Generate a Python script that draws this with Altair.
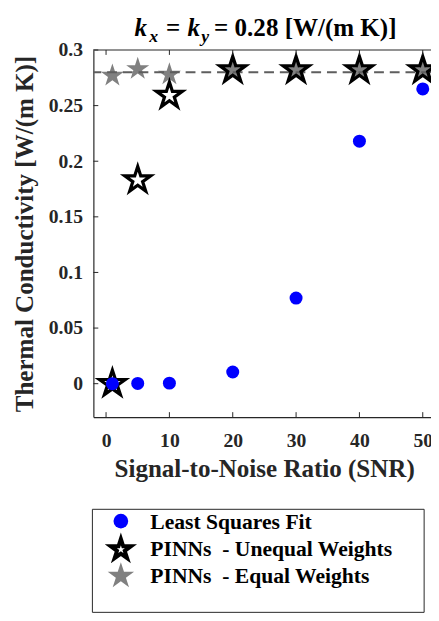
import altair as alt
import pandas as pd

# ---- data ----
snr = [1, 5, 10, 20, 30, 40, 50]
ls_fit = [0.0, 0.0002, 0.0005, 0.0105, 0.077, 0.218, 0.265]
pinn_unequal = [0.0, 0.183, 0.259, 0.282, 0.282, 0.282, 0.282]
pinn_equal = [0.277, 0.283, 0.278, 0.281, 0.281, 0.281, 0.281]
k_true = [0.28]
x_ticks = [0, 10, 20, 30, 40, 50]
y_ticks = [0, 0.05, 0.1, 0.15, 0.2, 0.25, 0.3]
legend_labels = ["Least Squares Fit", "PINNs\u00a0 - Unequal Weights", "PINNs\u00a0 - Equal Weights"]
title_main = ["k", "=", "k", "= 0.28 [W/(m K)]"]
title_subs = ["x", "y"]

# ---- styling ----
W, H = 344, 374
FONT = "Liberation Serif"
AX = "#262626"
STAR = ("M0,-1 L0.2245,-0.309 L0.9511,-0.309 L0.3633,0.118 L0.5878,0.809 "
        "L0,0.382 L-0.5878,0.809 L-0.3633,0.118 L-0.9511,-0.309 L-0.2245,-0.309 Z")

df = pd.DataFrame({"snr": snr, "ls": ls_fit, "uneq": pinn_unequal, "eq": pinn_equal})
xscale = alt.Scale(domain=[-2, 51.3], nice=False, zero=False)
yscale = alt.Scale(domain=[-0.03, 0.3], nice=False, zero=False)

x_axis = alt.Axis(values=x_ticks, ticks=False, grid=False, labelFont=FONT, labelFontSize=20,
                  labelFontWeight="bold", labelColor=AX, labelPadding=14, labelFlush=False,
                  domainColor=AX, domainWidth=1.2,
                  title="Signal-to-Noise Ratio (SNR)", titleFont=FONT, titleFontSize=25.5,
                  titleFontWeight="bold", titleColor=AX, titleX=174, titleY=61,
                  titleBaseline="alphabetic", titleAlign="center")
y_axis = alt.Axis(values=y_ticks, format="~g", ticks=False, grid=False, labelFont=FONT,
                  labelFontSize=20, labelFontWeight="bold", labelColor=AX, labelPadding=11,
                  labelFlush=False, domainColor=AX, domainWidth=1.2,
                  title="Thermal Conductivity [W/(m K)]", titleFont=FONT, titleFontSize=25.5,
                  titleFontWeight="bold", titleColor=AX, titleX=-62, titleY=187,
                  titleAngle=270, titleBaseline="alphabetic", titleAlign="center")

X = alt.X("snr:Q", scale=xscale, axis=x_axis)

def Y(field):
    return alt.Y(field, scale=yscale, axis=y_axis)

base = alt.Chart(df)
gray = base.mark_point(shape=STAR, filled=True, size=610, color="#808080", opacity=1,
                       strokeWidth=0).encode(x=X, y=Y("eq:Q"))
dashed = alt.Chart(pd.DataFrame({"k": k_true})).mark_rule(
    color="#5e5e5e", strokeWidth=2, strokeDash=[10, 6]).encode(y=Y("k:Q"))
black = base.mark_point(shape=STAR, filled=False, size=760, color="black", opacity=1,
                        strokeWidth=3.3).encode(x=X, y=Y("uneq:Q"))
blue = base.mark_circle(size=175, color="#0000ff", opacity=1).encode(x=X, y=Y("ls:Q"))

dxt = pd.DataFrame({"t": x_ticks})
dyt = pd.DataFrame({"t": y_ticks})
xt = alt.X("t:Q", scale=xscale, axis=x_axis)
yt = alt.Y("t:Q", scale=yscale, axis=y_axis)
tick_bottom = alt.Chart(dxt).mark_rule(color=AX, strokeWidth=1).encode(
    x=xt, y=alt.value(H), y2=alt.value(H - 5))
tick_top = alt.Chart(dxt).mark_rule(color=AX, strokeWidth=1).encode(
    x=xt, y=alt.value(0), y2=alt.value(5))
tick_left = alt.Chart(dyt).mark_rule(color=AX, strokeWidth=1).encode(
    y=yt, x=alt.value(0), x2=alt.value(5))
one = pd.DataFrame({"a": [0]})
top_border = alt.Chart(one).mark_rule(color=AX, strokeWidth=1.2).encode(
    x=alt.value(0), x2=alt.value(W), y=alt.value(0))

# ---- title (rich text with subscripts) ----
title_layers = []
main_x = [42, 74, 96, 123]
main_italic = [True, False, True, False]
for txt, xx, it in zip(title_main, main_x, main_italic):
    title_layers.append(alt.Chart(one).mark_text(
        align="left", baseline="alphabetic", font=FONT, fontSize=25.5, fontWeight="bold",
        fontStyle="italic" if it else "normal", color="black").encode(
        x=alt.value(xx), y=alt.value(-14), text=alt.value(txt)))
for txt, xx in zip(title_subs, [57, 110]):
    title_layers.append(alt.Chart(one).mark_text(
        align="left", baseline="alphabetic", font=FONT, fontSize=18, fontWeight="bold",
        fontStyle="italic", color="black").encode(
        x=alt.value(xx), y=alt.value(-8), text=alt.value(txt)))

# ---- legend ----
leg = [alt.Chart(one).mark_rect(fill="white", stroke=AX, strokeWidth=1).encode(
    x=alt.value(-1), x2=alt.value(337), y=alt.value(468), y2=alt.value(573))]
sym_y = [480, 508, 535]
leg.append(alt.Chart(one).mark_circle(size=225, color="#0000ff", opacity=1).encode(
    x=alt.value(28), y=alt.value(sym_y[0])))
leg.append(alt.Chart(one).mark_point(shape=STAR, filled=False, size=470, color="black",
                                     opacity=1, strokeWidth=4).encode(
    x=alt.value(28), y=alt.value(sym_y[1] + 1)))
leg.append(alt.Chart(one).mark_point(shape=STAR, filled=True, size=800, color="#808080",
                                     opacity=1, strokeWidth=0).encode(
    x=alt.value(28), y=alt.value(sym_y[2] + 1)))
for lab, yy in zip(legend_labels, sym_y):
    leg.append(alt.Chart(one).mark_text(
        align="left", baseline="alphabetic", font=FONT, fontSize=22, fontWeight="bold",
        color="black").encode(x=alt.value(58), y=alt.value(yy + 8), text=alt.value(lab)))

chart = alt.layer(
    gray, dashed, black, blue, tick_bottom, tick_top, tick_left, top_border,
    *title_layers, *leg
).properties(
    width=W, height=H,
    autosize=alt.AutoSizeParams(type="none"),
    padding={"left": 87, "top": 37, "right": 0, "bottom": 201},
    background="white",
).configure_view(strokeWidth=0)

chart.save("out.html", embed_options={"renderer": "svg", "actions": False})
